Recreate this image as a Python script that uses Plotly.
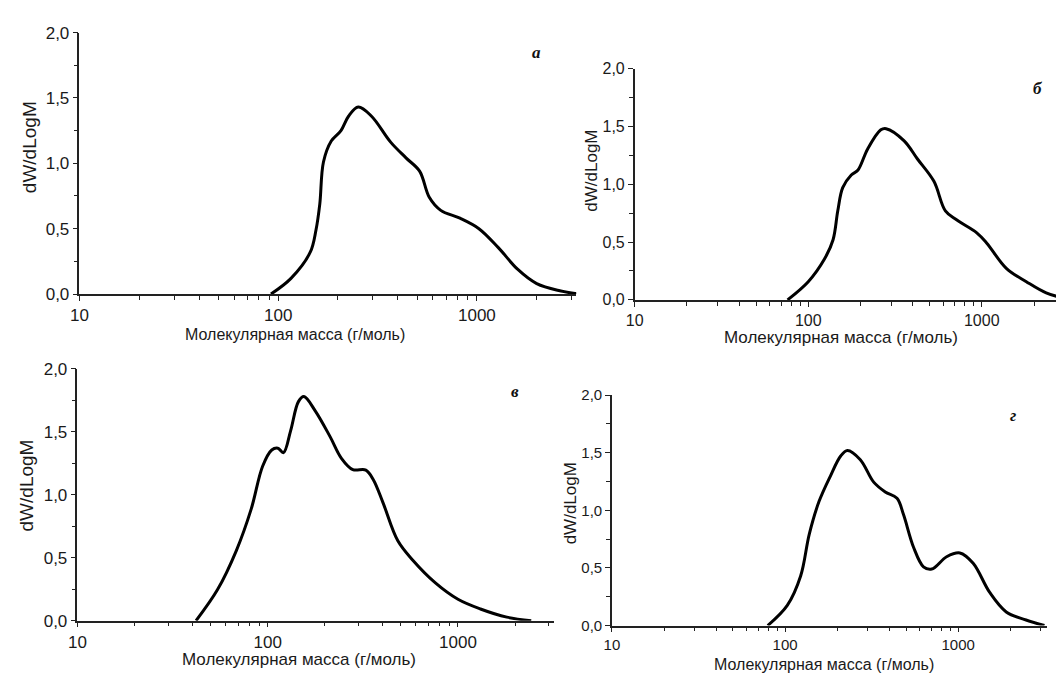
import plotly.graph_objects as go

# ---- data ----
mass_a = [92, 116, 145, 155, 162, 169, 185, 207, 226, 253, 295, 369, 441, 515, 576, 658, 822, 1024, 1282, 1602, 2000, 2613, 3265]
dw_a   = [0.0, 0.12, 0.32, 0.49, 0.69, 1.01, 1.17, 1.25, 1.36, 1.43, 1.36, 1.16, 1.04, 0.94, 0.74, 0.64, 0.58, 0.50, 0.355, 0.19, 0.08, 0.025, 0.0]

mass_b = [76, 100, 124, 139, 148, 158, 177, 193, 220, 262, 281, 357, 425, 530, 617, 719, 936, 1069, 1390, 1807, 2350, 2950]
dw_b   = [0.0, 0.157, 0.353, 0.52, 0.77, 0.97, 1.08, 1.12, 1.305, 1.47, 1.48, 1.375, 1.22, 1.025, 0.77, 0.69, 0.58, 0.49, 0.27, 0.157, 0.06, 0.017]

mass_c = [42, 54.5, 68.4, 82, 94, 105, 113, 121, 132, 145, 155, 178, 213, 244, 280, 328, 359, 403, 483, 579, 761, 1000, 1313, 1806, 2427]
dw_c   = [0.0, 0.247, 0.557, 0.89, 1.227, 1.356, 1.37, 1.335, 1.51, 1.74, 1.78, 1.665, 1.46, 1.29, 1.2, 1.196, 1.12, 0.94, 0.634, 0.48, 0.3, 0.17, 0.093, 0.028, 0.0]

mass_d = [79.4, 103, 123, 138, 157, 183, 209, 229, 272, 325, 379, 443, 483, 552, 630, 703, 857, 1023, 1220, 1520, 1894, 2466, 3148]
dw_d   = [0.0, 0.175, 0.43, 0.794, 1.076, 1.3, 1.47, 1.52, 1.44, 1.245, 1.16, 1.104, 0.963, 0.68, 0.51, 0.49, 0.597, 0.63, 0.54, 0.287, 0.118, 0.048, 0.0]

panel_letters = ["а", "б", "в", "г"]
x_title = "Молекулярная масса (г/моль)"
y_title = "dW/dLogM"
x_tick_vals = [10, 100, 1000]
x_tick_text = ["10", "100", "1000"]
y_tick_vals = [0, 0.5, 1.0, 1.5, 2.0]
minor_x = [20, 30, 40, 50, 60, 70, 80, 90, 200, 300, 400, 500, 600, 700, 800, 900, 2000, 3000]

W, H = 1064, 681
OFF = 8  # page body margin
def fx(px): return (px - OFF) / W
def fy(py): return 1 - (py - OFF) / H

# panel geometry (page pixels): x0, x1, log range end, y_top(2.0), y_bottom(0)
panels = [
    dict(x=mass_a, y=dw_a, x0=71, x1=572, lend=3.50, yt=24, yb=293, fs=17),
    dict(x=mass_b, y=dw_b, x0=631, x1=1064 + OFF, lend=3.52, yt=61, yb=299, fs=16),
    dict(x=mass_c, y=dw_c, x0=69, x1=550, lend=3.507, yt=370, yb=629, fs=17),
    dict(x=mass_d, y=dw_d, x0=608, x1=1047, lend=3.514, yt=397, yb=634, fs=15),
]

fig = go.Figure()
layout = dict(
    width=W, height=H, autosize=False,
    margin=dict(l=0, r=0, t=0, b=0),
    paper_bgcolor="white", plot_bgcolor="white",
    showlegend=False, separators=",.",
    font=dict(family="Liberation Sans, Arial, sans-serif", color="#1a1a1a"),
)

for i, p in enumerate(panels):
    n = "" if i == 0 else str(i + 1)
    fig.add_trace(go.Scatter(
        x=p["x"], y=p["y"], mode="lines",
        line=dict(color="black", width=3, shape="spline", smoothing=1.0),
        xaxis="x" + n, yaxis="y" + n, hoverinfo="skip",
    ))
    layout["xaxis" + n] = dict(
        type="log", range=[1, p["lend"]], domain=[fx(p["x0"]), min(1.0, fx(p["x1"]))],
        anchor="y" + n, showgrid=False, zeroline=False,
        showline=True, linecolor="#222", linewidth=1.5,
        ticks="outside", ticklen=5, tickwidth=1.3, tickcolor="#222",
        tickmode="array", tickvals=x_tick_vals, ticktext=x_tick_text,
        tickfont=dict(size=p["fs"], color="#1a1a1a"),
        minor=dict(ticks="outside", ticklen=4, tickwidth=1.2, tickcolor="#222",
                   tickmode="array", tickvals=minor_x, showgrid=False),
    )
    layout["yaxis" + n] = dict(
        range=[0, 2.0], domain=[fy(p["yb"]), fy(p["yt"])],
        anchor="x" + n, showgrid=False, zeroline=False,
        showline=True, linecolor="#222", linewidth=1.5,
        ticks="outside", ticklen=5, tickwidth=1.3, tickcolor="#222",
        tickmode="array", tickvals=y_tick_vals, tickformat=".1f",
        tickfont=dict(size=p["fs"], color="#1a1a1a"),
        minor=dict(ticks="outside", ticklen=4, tickwidth=1.2, tickcolor="#222",
                   dtick=0.25, tick0=0, showgrid=False),
    )

annotations = []
# y titles: (x px, y center px, size)
for (xp, yp, fs) in [(20, 142, 19), (587, 166, 17), (18, 490, 19), (566, 508, 17)]:
    annotations.append(dict(text=y_title, x=fx(xp), y=fy(yp), xref="paper", yref="paper",
                            showarrow=False, textangle=-90, font=dict(size=fs, color="#1a1a1a"),
                            xanchor="center", yanchor="middle"))
# x titles
for (xp, yp, fs) in [(288, 335, 16), (839, 338, 17), (292, 669, 17), (822, 674, 16)]:
    annotations.append(dict(text=x_title, x=fx(xp), y=fy(yp), xref="paper", yref="paper",
                            showarrow=False, font=dict(size=fs, color="#1a1a1a"),
                            xanchor="center", yanchor="middle"))
# panel letters
for (lt, xp, yp) in zip(panel_letters, [532, 1038, 510, 1012], [45, 82, 393, 418]):
    annotations.append(dict(text="<b><i>" + lt + "</i></b>", x=fx(xp), y=fy(yp),
                            xref="paper", yref="paper", showarrow=False,
                            font=dict(size=17, family="Liberation Serif, Times New Roman, serif", color="#111"),
                            xanchor="center", yanchor="middle"))
layout["annotations"] = annotations
fig.update_layout(**layout)
fig.write_html("out.html")
